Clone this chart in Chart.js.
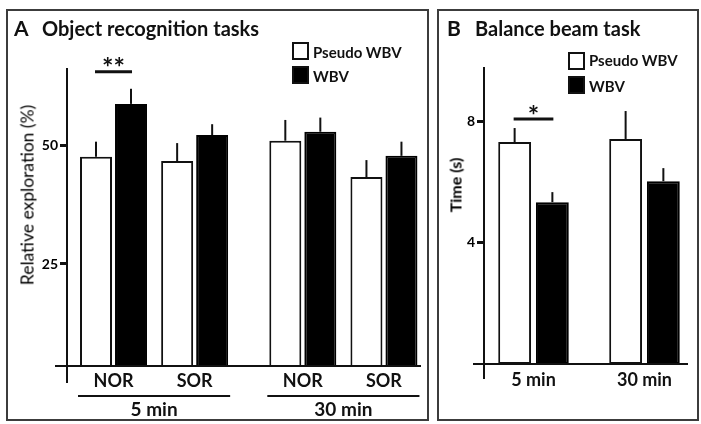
<!DOCTYPE html>
<html lang="en">
<head>
<meta charset="UTF-8">
<title>Object recognition and balance beam tasks</title>
<style>
  body { margin: 0; background: #fff; font-family: Lato, "Open Sans", sans-serif; color: #111; }
  #page { position: relative; width: 701px; height: 424px; overflow: hidden; }
  .box { position: absolute; border: 2px solid #3c3c3c; box-sizing: border-box; }
  #boxA { left: 6px; top: 9px; width: 423px; height: 412px; }
  #boxB { left: 437px; top: 9px; width: 262px; height: 412px; }
  canvas { position: absolute; top: 0; }
  #chartA { left: 0; }
  #chartB { left: 434px; }
  .txt { position: absolute; white-space: nowrap; font-weight: bold; line-height: 24px; }
  .letter { font-size: 21px; }
  .head { font-size: 20px; }
  .sw { position: absolute; width: 17px; height: 18px; box-sizing: border-box; border: 2px solid #111; }
  .sw.black { background: #000; }
  .leg { position: absolute; font-size: 15px; font-weight: bold; line-height: 18px; white-space: nowrap; }
  .ytitle { position: absolute; white-space: nowrap; color: #000; transform: translate(-50%, -50%) rotate(-90deg); }
</style>
<script src="https://cdn.jsdelivr.net/npm/chart.js"></script>
</head>
<body>
<div id="page">
  <div class="box" id="boxA"></div>
  <div class="box" id="boxB"></div>
  <canvas id="chartA" width="434" height="424"></canvas>
  <canvas id="chartB" width="267" height="424"></canvas>

  <div class="txt letter" style="left:14px; top:16px">A</div>
  <div class="txt head" style="left:42px; top:16px">Object recognition tasks</div>
  <div class="txt letter" style="left:447px; top:16px">B</div>
  <div class="txt head" style="left:475px; top:16px">Balance beam task</div>

  <div class="sw" style="left:292px; top:42px"></div>
  <div class="leg" style="left:313px; top:43px">Pseudo WBV</div>
  <div class="sw black" style="left:292px; top:66px"></div>
  <div class="leg" style="left:313px; top:67px">WBV</div>

  <div class="sw" style="left:568px; top:52px"></div>
  <div class="leg" style="left:589px; top:51px">Pseudo WBV</div>
  <div class="sw black" style="left:568px; top:76px"></div>
  <div class="leg" style="left:589px; top:77px">WBV</div>

  <div class="ytitle" style="left:27px; top:195px; font-size:17.5px">Relative exploration (%)</div>
  <div class="ytitle" style="left:455px; top:185px; font-size:16px; font-weight:bold">Time (s)</div>
</div>

<script>
  // Panel A: object recognition tasks
  const categoriesA = ['NOR', 'SOR', 'NOR', 'SOR'];
  const groupsA = ['5 min', '30 min'];
  const groupOfA = [0, 0, 1, 1];
  const pseudoA = [47.7, 46.8, 51.1, 43.4];
  const pseudoSemA = [3.2, 3.8, 4.4, 3.6];
  const wbvA = [58.9, 52.3, 53.0, 47.9];
  const wbvSemA = [3.2, 2.3, 3.0, 3.0];
  const yTicksA = [25, 50];

  // Panel B: balance beam task
  const categoriesB = ['5 min', '30 min'];
  const pseudoB = [7.31, 7.41];
  const pseudoSemB = [0.46, 0.92];
  const wbvB = [5.33, 6.02];
  const wbvSemB = [0.33, 0.43];
  const yTicksB = [4, 8];

  const ink = '#111';

  const extrasPlugin = {
    id: 'extras',
    afterDatasetsDraw(chart, args, o) {
      const { ctx, chartArea: ca, scales: { y } } = chart;
      const metas = [0, 1].map(d => chart.getDatasetMeta(d));
      const seg = (x1, y1, x2, y2, w) => {
        ctx.lineWidth = w;
        ctx.beginPath();
        ctx.moveTo(x1, y1);
        ctx.lineTo(x2, y2);
        ctx.stroke();
      };
      ctx.save();
      ctx.strokeStyle = ink;
      ctx.fillStyle = ink;

      // error bars (mean + SEM)
      chart.data.datasets.forEach((ds, d) => {
        metas[d].data.forEach((bar, i) => {
          seg(bar.x, bar.y, bar.x, y.getPixelForValue(ds.data[i].y + ds.sem[i]), 2);
        });
      });

      // axes, crossing at the corner
      seg(ca.left - o.xExt, ca.bottom, ca.right, ca.bottom, 2);
      seg(ca.left, ca.top, ca.left, ca.bottom + o.yExt, 2);

      // significance bar
      const p = metas[0].data[o.sig.index], w = metas[1].data[o.sig.index];
      const sy = y.getPixelForValue(o.sig.at);
      seg(p.x - 1, sy, w.x + 1, sy, 3);
      ctx.font = 'bold 27px Lato';
      ctx.textAlign = 'center';
      ctx.textBaseline = 'middle';
      ctx.fillText(o.sig.label, (p.x + w.x) / 2, sy + o.sig.dy);

      // group labels under the category labels
      (o.groups || []).forEach((g, gi) => {
        const idx = o.groupOf.map((v, i) => (v === gi ? i : -1)).filter(i => i >= 0);
        const l = Math.min(...idx.map(i => metas[0].data[i].x - metas[0].data[i].width / 2)) - 2;
        const r = Math.max(...idx.map(i => metas[1].data[i].x + metas[1].data[i].width / 2)) + 2;
        seg(l, ca.bottom + 30, r, ca.bottom + 30, 2);
        ctx.font = 'bold 19px Lato';
        ctx.fillText(g, (l + r) / 2, ca.bottom + 44);
      });
      ctx.restore();
    }
  };

  function buildChart(id, cfg) {
    const slots = cfg.categories.map((c, i) => cfg.slot(i));
    const points = vals => vals.map((v, i) => ({ x: slots[i], y: v }));
    const barOpts = {
      borderWidth: 2,
      borderSkipped: false,
      categoryPercentage: cfg.catPct,
      barPercentage: cfg.barPct
    };
    return new Chart(document.getElementById(id), {
      type: 'bar',
      data: {
        datasets: [
          Object.assign({ label: 'Pseudo WBV', data: points(cfg.pseudo), sem: cfg.pseudoSem,
            backgroundColor: '#fff', borderColor: ink }, barOpts),
          Object.assign({ label: 'WBV', data: points(cfg.wbv), sem: cfg.wbvSem,
            backgroundColor: '#000', borderColor: '#000' }, barOpts)
        ]
      },
      options: {
        responsive: false,
        animation: false,
        layout: { padding: cfg.padding },
        plugins: {
          legend: { display: false },
          tooltip: { enabled: false },
          extras: cfg.extras
        },
        scales: {
          x: {
            type: 'linear',
            min: cfg.xMin,
            max: cfg.xMax,
            offset: false,
            grid: { display: false, drawTicks: false },
            border: { display: false },
            afterBuildTicks: s => { s.ticks = slots.map(v => ({ value: v })); },
            afterFit: s => { s.height = cfg.xHeight; },
            ticks: {
              autoSkip: false,
              maxRotation: 0,
              padding: cfg.xPad,
              color: ink,
              font: { family: 'Lato', weight: 'bold', size: 18 },
              callback: (v, i) => cfg.categories[i]
            }
          },
          y: {
            min: cfg.yMin,
            max: cfg.yMax,
            grid: { drawOnChartArea: false, drawTicks: true, tickLength: 7, tickWidth: 3, lineWidth: 3,
                    color: ink, tickColor: ink },
            border: { display: false },
            afterBuildTicks: s => { s.ticks = cfg.yTicks.map(v => ({ value: v })); },
            afterFit: s => { s.width = cfg.yWidth; },
            ticks: { padding: 2, color: '#000', font: { family: 'Lato', weight: 'bold', size: 14 } }
          }
        }
      },
      plugins: [extrasPlugin]
    });
  }

  buildChart('chartA', {
    categories: categoriesA,
    slot: i => i * 3 + groupOfA[i],
    pseudo: pseudoA, pseudoSem: pseudoSemA,
    wbv: wbvA, wbvSem: wbvSemA,
    yTicks: yTicksA,
    xMin: -1.72, xMax: 11.37,
    yMin: 3.4, yMax: 66.5,
    catPct: 0.863, barPct: 0.914,
    padding: { left: 27, right: 13, top: 68, bottom: 0 },
    yWidth: 40, xHeight: 58, xPad: 4,
    extras: { xExt: 12, yExt: 17, sig: { index: 0, label: '**', at: 65.7, dy: -3 },
              groups: groupsA, groupOf: groupOfA }
  });

  buildChart('chartB', {
    categories: categoriesB,
    slot: i => i,
    pseudo: pseudoB, pseudoSem: pseudoSemB,
    wbv: wbvB, wbvSem: wbvSemB,
    yTicks: yTicksB,
    xMin: -0.446, xMax: 1.392,
    yMin: 0, yMax: 9.78,
    catPct: 0.68, barPct: 0.87,
    padding: { left: 25, right: 13, top: 67, bottom: 0 },
    yWidth: 25, xHeight: 60, xPad: 5,
    extras: { xExt: 11, yExt: 15, sig: { index: 0, label: '*', at: 8.07, dy: -3 } }
  });
</script>
</body>
</html>
